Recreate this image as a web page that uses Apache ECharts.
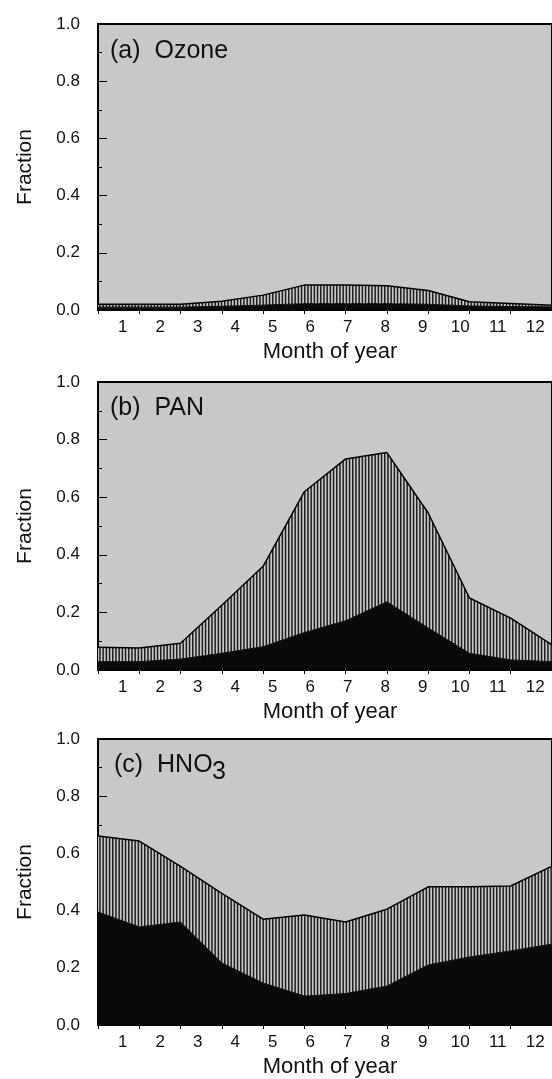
<!DOCTYPE html>
<html>
<head>
<meta charset="utf-8">
<script src="https://cdn.jsdelivr.net/npm/echarts@6/dist/echarts.min.js"></script>
<style>
  html, body { margin: 0; padding: 0; background: #fff; }
  #chart { width: 552px; height: 1079px; }
</style>
</head>
<body>
<div id="chart"></div>
<script>
// ---- data ----
const monthLabels = [1, 2, 3, 4, 5, 6, 7, 8, 9, 10, 11, 12];
const nodeX = ['0', '1', '2', '3', '4', '5', '6', '7', '8', '9', '10', '11'];
const yTicks = [0, 0.2, 0.4, 0.6, 0.8, 1.0];

const panelTitles = ['(a)  Ozone', '(b)  PAN', '(c)  HNO'];

// (a) Ozone
const ozoneBlack   = [0.010, 0.010, 0.010, 0.013, 0.017, 0.022, 0.022, 0.022, 0.020, 0.014, 0.012, 0.011];
const ozoneHatched = [0.010, 0.010, 0.010, 0.018, 0.035, 0.065, 0.065, 0.063, 0.048, 0.015, 0.011, 0.006];
// (b) PAN
const panBlack   = [0.029, 0.029, 0.038, 0.058, 0.081, 0.130, 0.171, 0.237, 0.146, 0.058, 0.035, 0.029];
const panHatched = [0.050, 0.047, 0.055, 0.167, 0.279, 0.489, 0.562, 0.518, 0.399, 0.192, 0.145, 0.058];
// (c) HNO3
const hno3Black   = [0.395, 0.343, 0.360, 0.217, 0.147, 0.101, 0.110, 0.136, 0.210, 0.238, 0.259, 0.283];
const hno3Hatched = [0.266, 0.300, 0.195, 0.243, 0.223, 0.284, 0.250, 0.269, 0.273, 0.245, 0.227, 0.272];

// ---- styling / layout ----
const FONT = '"Liberation Sans", Arial, Helvetica, sans-serif';
const GRAY = '#c8c8c8';
const BLACK = '#0a0a0a';

function hatchPattern() {
  const c = document.createElement('canvas');
  c.width = 16; c.height = 4;
  const g = c.getContext('2d');
  g.fillStyle = GRAY; g.fillRect(0, 0, 16, 4);
  g.fillStyle = '#1e1e1e';
  for (let i = 0; i < 5; i++) g.fillRect(i * 3.2, 0, 1.5, 4);
  return c;
}
const pat = hatchPattern();

const gridTops = [24, 382, 739];
const gridHeights = [286, 288, 286];
const gridLeft = 98, gridWidth = 460;
const labMin = 0.342, labMax = 12.447;

const panels = [
  [ozoneBlack, ozoneHatched],
  [panBlack, panHatched],
  [hno3Black, hno3Hatched]
];

const grid = [], xAxis = [], yAxis = [], series = [], graphic = [];
panels.forEach((p, k) => {
  grid.push({
    left: gridLeft, top: gridTops[k], width: gridWidth, height: gridHeights[k],
    show: true, backgroundColor: GRAY, borderColor: '#000', borderWidth: 2
  });
  // data axis (ticks at node positions)
  xAxis.push({
    type: 'category', gridIndex: k, position: 'bottom', data: nodeX, boundaryGap: false,
    axisLine: { show: true, onZero: false, lineStyle: { color: '#000', width: 2 } },
    axisTick: { show: true, inside: false, length: 4, lineStyle: { color: '#000', width: 1 } },
    axisLabel: { show: false },
    splitLine: { show: false }
  });
  // month label axis
  xAxis.push({
    type: 'value', gridIndex: k, position: 'bottom', min: labMin, max: labMax,
    axisLine: { show: false }, axisTick: { show: false }, splitLine: { show: false },
    axisLabel: { show: true, customValues: monthLabels, margin: 9, fontSize: 17, color: '#111', fontFamily: FONT },
    name: 'Month of year', nameLocation: 'middle', nameGap: 31,
    nameTextStyle: { fontSize: 22, color: '#111', fontFamily: FONT, padding: [0, 0, 0, 10] }
  });
  yAxis.push({
    type: 'value', gridIndex: k, min: 0, max: 1, interval: 0.2,
    axisLine: { show: true, lineStyle: { color: '#000', width: 2 } },
    axisTick: { show: true, inside: true, length: 9, lineStyle: { color: '#000', width: 1 } },
    minorTick: { show: true, splitNumber: 2, length: 4, lineStyle: { color: '#000', width: 1 } },
    axisLabel: { margin: 18, fontSize: 17, color: '#111', fontFamily: FONT, formatter: v => v.toFixed(1) },
    splitLine: { show: false },
    name: 'Fraction', nameLocation: 'middle', nameGap: 62, nameRotate: 90,
    nameTextStyle: { fontSize: 21, color: '#111', fontFamily: FONT }
  });
  series.push({
    type: 'line', xAxisIndex: 2 * k, yAxisIndex: k, stack: 's' + k,
    data: p[0],
    showSymbol: false, symbol: 'none',
    lineStyle: { color: BLACK, width: 1 },
    areaStyle: { color: BLACK, opacity: 1 },
    z: 2
  });
  series.push({
    type: 'line', xAxisIndex: 2 * k, yAxisIndex: k, stack: 's' + k,
    data: p[1],
    showSymbol: false, symbol: 'none',
    lineStyle: { color: '#000', width: 1.5 },
    areaStyle: { color: { image: pat, repeat: 'repeat' }, opacity: 1 },
    z: 2
  });
});

const tStyle = { fontSize: 25, fontFamily: FONT, fill: '#111', verticalAlign: 'middle' };
graphic.push({ type: 'text', z: 100, x: 110, y: gridTops[0] + 27, style: Object.assign({ text: panelTitles[0] }, tStyle) });
graphic.push({ type: 'text', z: 100, x: 110, y: gridTops[1] + 26, style: Object.assign({ text: panelTitles[1] }, tStyle) });
graphic.push({ type: 'text', z: 100, x: 114, y: gridTops[2] + 26, style: Object.assign({ text: panelTitles[2] }, tStyle) });
graphic.push({ type: 'text', z: 100, x: 212, y: gridTops[2] + 33, style: Object.assign({ text: '3' }, tStyle) });

const chart = echarts.init(document.getElementById('chart'), null, { renderer: 'canvas' });
chart.setOption({
  animation: false,
  backgroundColor: '#fff',
  grid, xAxis, yAxis, series, graphic
});
</script>
</body>
</html>
